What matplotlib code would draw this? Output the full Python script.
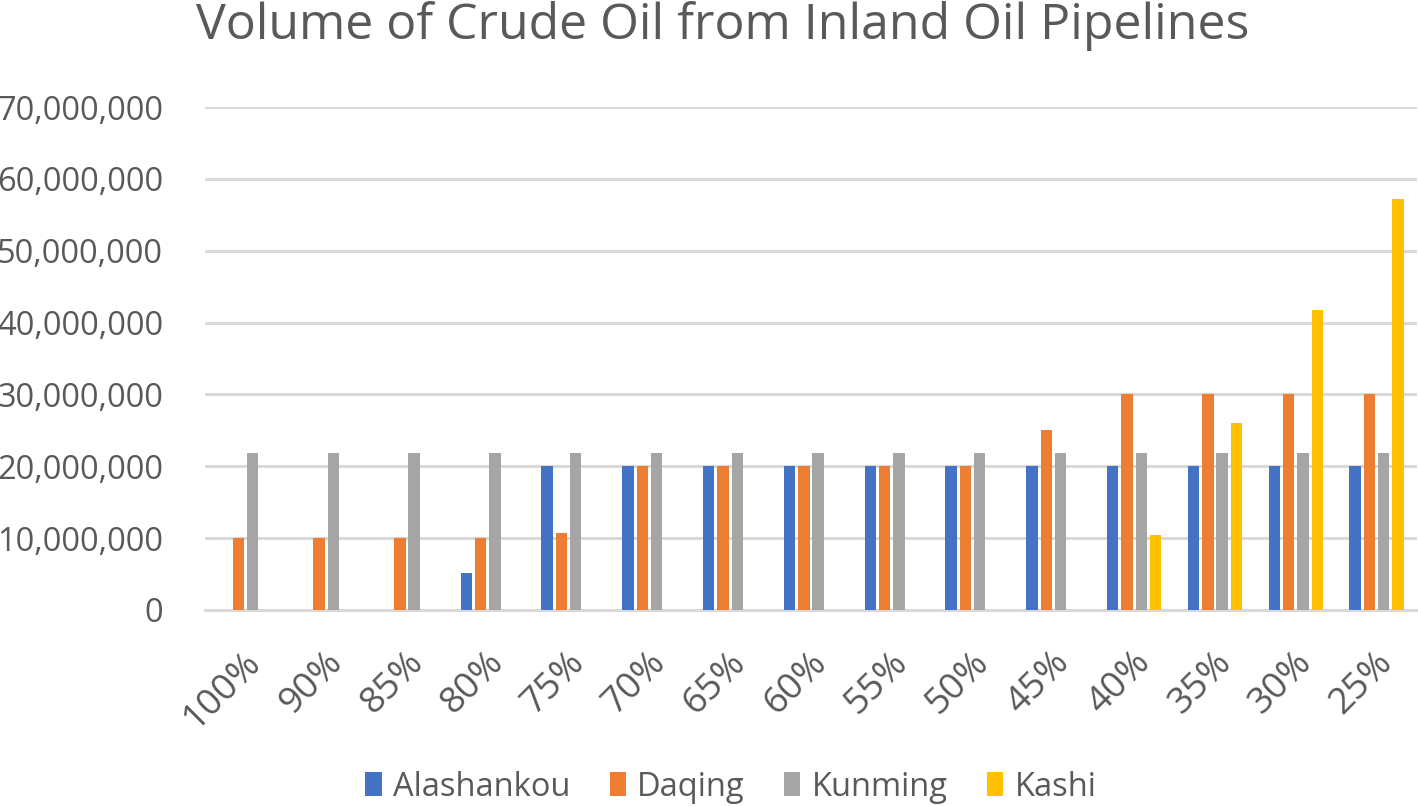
import matplotlib
matplotlib.use("Agg")
import matplotlib.pyplot as plt
from matplotlib.ticker import FuncFormatter, MultipleLocator
import numpy as np

categories = ["100%", "90%", "85%", "80%", "75%", "70%", "65%", "60%", "55%",
              "50%", "45%", "40%", "35%", "30%", "25%"]
alashankou = [0, 0, 0, 5.2e6, 20e6, 20e6, 20e6, 20e6, 20e6, 20e6, 20e6, 20e6, 20e6, 20e6, 20e6]
daqing = [10e6, 10e6, 10e6, 10e6, 10.7e6, 20e6, 20e6, 20e6, 20e6, 20e6, 25e6, 30e6, 30e6, 30e6, 30e6]
kunming = [21.9e6] * 15
kashi = [0, 0, 0, 0, 0, 0, 0, 0, 0, 0, 0, 10.5e6, 26e6, 41.7e6, 57.2e6]

series_names = ["Alashankou", "Daqing", "Kunming", "Kashi"]
series_values = [alashankou, daqing, kunming, kashi]
colors = ["#4472C4", "#ED7D31", "#A5A5A5", "#FFC000"]

plt.rcParams['font.family'] = ['Open Sans', 'DejaVu Sans']
text_color = "#595959"

fig = plt.figure(figsize=(14.18, 8.06), dpi=100)
ax = fig.add_axes([205/1418, 1-610/806, (1417-205)/1418, (610-107)/806])

x = np.arange(len(categories))
slot = 0.177
width = 0.142
for i, (name, vals, c) in enumerate(zip(series_names, series_values, colors)):
    ax.bar(x + (i - 1.5) * slot, vals, width=width, color=c, label=name, zorder=3)

ax.set_xlim(-0.5, len(categories) - 0.5)
ax.set_ylim(0, 70e6)
ax.yaxis.set_major_locator(MultipleLocator(10e6))
ax.yaxis.set_major_formatter(FuncFormatter(lambda v, p: f"{int(round(v)):,}"))
ax.grid(axis='y', color="#D9D9D9", linewidth=2.2, zorder=0)
ax.set_axisbelow(True)
for s in ["top", "right", "left"]:
    ax.spines[s].set_visible(False)
ax.spines["bottom"].set_color("#D9D9D9")
ax.spines["bottom"].set_linewidth(2.2)
ax.tick_params(axis='both', length=0, labelsize=23.5, colors=text_color)
ax.tick_params(axis='y', pad=30)
ax.tick_params(axis='x', pad=25, labelsize=26.5)
ax.set_xticks(x)
ax.set_xticklabels(categories, rotation=45, ha='right', rotation_mode='anchor')
for lbl in ax.get_xticklabels():
    lbl.set_transform(lbl.get_transform() + matplotlib.transforms.ScaledTranslation(-0.02, 0, fig.dpi_scale_trans))

fig.text(723/1418, 1-26/806, "Volume of Crude Oil from Inland Oil Pipelines",
         ha='center', va='center', fontsize=36, color=text_color)

leg = fig.legend(loc='center', bbox_to_anchor=(731/1418, 1-787/806), ncol=4, frameon=False,
                 fontsize=23.5, handlelength=0.5, handleheight=0.75, handletextpad=0.35,
                 columnspacing=1.2, labelcolor=text_color)

fig.savefig("out.png", dpi=100, facecolor="white")
